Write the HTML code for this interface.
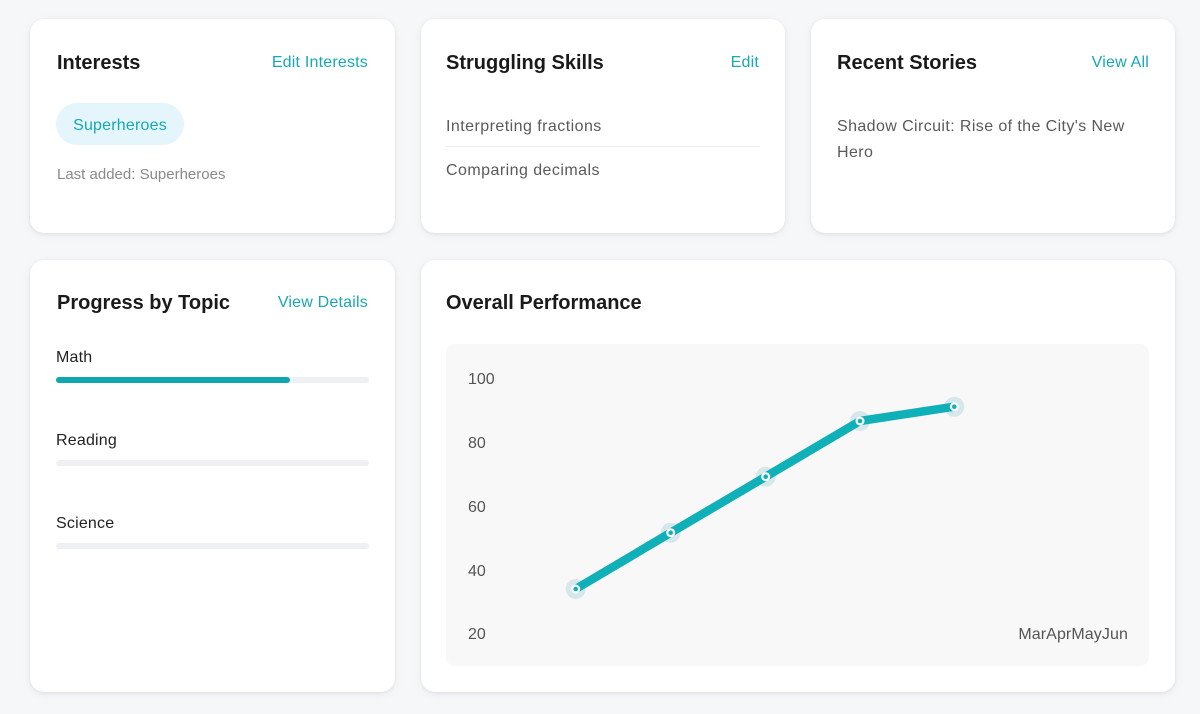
<!DOCTYPE html>
<html>
<head>
<meta charset="utf-8">
<style>
  html,body{margin:0;padding:0;}
  body{width:1200px;height:714px;background:#f6f7f9;position:relative;overflow:hidden;font-family:"Liberation Sans",Arial,sans-serif;}
  .card{position:absolute;background:#fff;border-radius:14px;box-shadow:0 1px 3px rgba(20,30,50,0.08),0 2px 10px rgba(20,30,50,0.05);}
  .t{position:absolute;white-space:nowrap;}
  .title{font-size:20px;font-weight:bold;color:#1a1a1a;line-height:24px;}
  .link{font-size:16px;color:#16a9b4;line-height:24px;letter-spacing:0.2px;}
  .body{font-size:16px;color:#5a5a5a;line-height:24px;letter-spacing:0.45px;}
  .lbl{font-size:16px;color:#222;line-height:24px;letter-spacing:0.2px;}
  .track{position:absolute;left:26px;width:313px;height:6px;border-radius:3px;background:#eef0f3;}
  .fill{position:absolute;left:0;top:0;height:6px;border-radius:3px;background:#10a6b0;}
  .ax{font-size:16px;color:#555;line-height:20px;}
</style>
</head>
<body>

<!-- Interests -->
<div class="card" style="left:30px;top:19px;width:365px;height:214px;">
  <div class="t title" style="left:27px;top:32px;">Interests</div>
  <div class="t link" style="right:27px;top:32px;">Edit Interests</div>
  <div class="t" style="left:26px;top:84px;width:128px;height:42px;border-radius:21px;background:#e5f5fc;color:#16a9b4;font-size:16px;line-height:46px;text-align:center;letter-spacing:0.2px;">Superheroes</div>
  <div class="t" style="left:27px;top:146px;font-size:15px;line-height:20px;color:#8a8a8a;">Last added: Superheroes</div>
</div>

<!-- Struggling Skills -->
<div class="card" style="left:421px;top:19px;width:364px;height:214px;">
  <div class="t title" style="left:25px;top:32px;">Struggling Skills</div>
  <div class="t link" style="right:26px;top:32px;">Edit</div>
  <div class="t body" style="left:25px;top:96px;">Interpreting fractions</div>
  <div style="position:absolute;left:25px;top:127px;width:314px;height:1px;background:#ececec;"></div>
  <div class="t body" style="left:25px;top:140px;">Comparing decimals</div>
</div>

<!-- Recent Stories -->
<div class="card" style="left:811px;top:19px;width:364px;height:214px;">
  <div class="t title" style="left:26px;top:32px;">Recent Stories</div>
  <div class="t link" style="right:26px;top:32px;">View All</div>
  <div class="t body" style="left:26px;top:95px;line-height:26px;letter-spacing:0.4px;">Shadow Circuit: Rise of the City's New<br>Hero</div>
</div>

<!-- Progress by Topic -->
<div class="card" style="left:30px;top:260px;width:365px;height:432px;">
  <div class="t title" style="left:27px;top:31px;">Progress by Topic</div>
  <div class="t link" style="right:27px;top:31px;">View Details</div>

  <div class="t lbl" style="left:26px;top:86px;">Math</div>
  <div class="track" style="top:117px;"><div class="fill" style="width:234px;"></div></div>

  <div class="t lbl" style="left:26px;top:169px;">Reading</div>
  <div class="track" style="top:200px;"></div>

  <div class="t lbl" style="left:26px;top:252px;">Science</div>
  <div class="track" style="top:283px;"></div>
</div>

<!-- Overall Performance -->
<div class="card" style="left:421px;top:260px;width:754px;height:432px;">
  <div class="t title" style="left:25px;top:31px;">Overall Performance</div>
  <div style="position:absolute;left:25px;top:84px;width:703px;height:322px;border-radius:9px;background:#f8f8f8;"></div>
</div>

<!-- axis labels -->
<div class="t ax" style="left:468px;top:370px;">100</div>
<div class="t ax" style="left:468px;top:434px;">80</div>
<div class="t ax" style="left:468px;top:498px;">60</div>
<div class="t ax" style="left:468px;top:562px;">40</div>
<div class="t ax" style="left:468px;top:625px;">20</div>
<div class="t ax" style="right:72px;top:625px;letter-spacing:0.1px;">MarAprMayJun</div>

<svg style="position:absolute;left:0;top:0;" width="1200" height="714" viewBox="0 0 1200 714">
  <g fill="#d6e8ec">
    <circle cx="575.7" cy="589" r="10"/>
    <circle cx="670.7" cy="532.7" r="10"/>
    <circle cx="765.7" cy="476.7" r="10"/>
    <circle cx="860" cy="421" r="10"/>
    <circle cx="954.3" cy="406.7" r="10"/>
  </g>
  <polyline points="575.7,589 670.7,532.7 765.7,476.7 860,421 954.3,406.7" fill="none" stroke="#0fb0b8" stroke-width="8.5" stroke-linejoin="round" stroke-linecap="butt"/>
  <g fill="#ffffff">
    <circle cx="575.7" cy="589" r="4.5"/>
    <circle cx="670.7" cy="532.7" r="4.5"/>
    <circle cx="765.7" cy="476.7" r="4.5"/>
    <circle cx="860" cy="421" r="4.5"/>
    <circle cx="954.3" cy="406.7" r="4.5"/>
  </g>
  <g fill="#0fb0b8">
    <circle cx="575.7" cy="589" r="2.3"/>
    <circle cx="670.7" cy="532.7" r="2.3"/>
    <circle cx="765.7" cy="476.7" r="2.3"/>
    <circle cx="860" cy="421" r="2.3"/>
    <circle cx="954.3" cy="406.7" r="2.3"/>
  </g>
</svg>

</body>
</html>
